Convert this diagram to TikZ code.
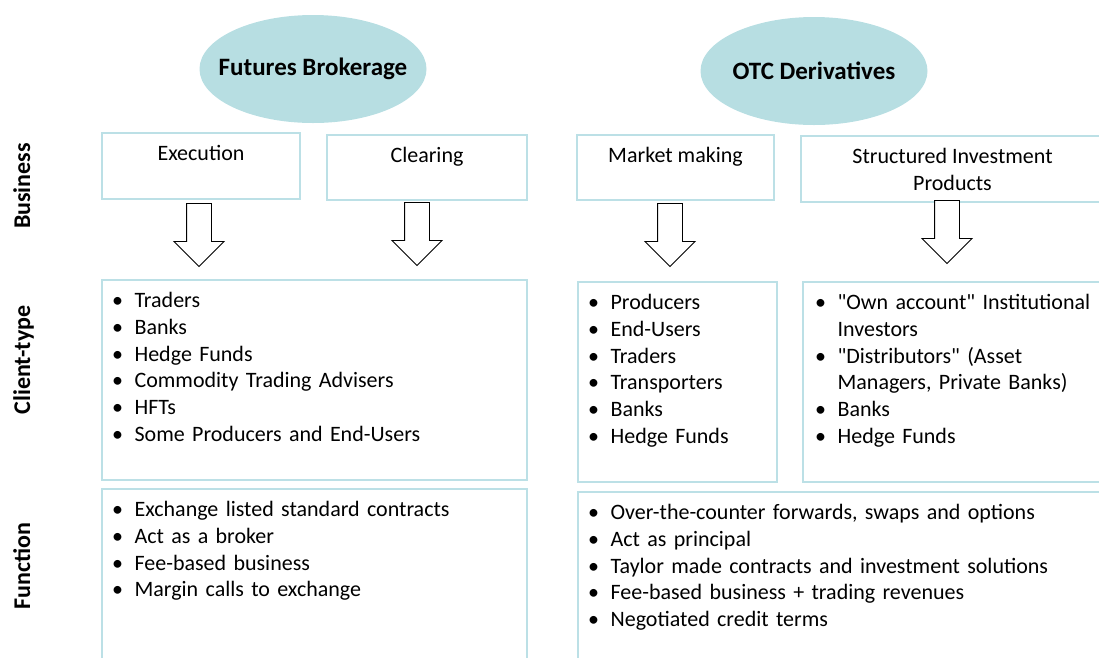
\documentclass[tikz,border=0pt]{standalone}
\usepackage{fontspec}
\setmainfont{Carlito}
\usetikzlibrary{shapes.geometric,shapes.arrows,positioning}
\definecolor{tealfill}{RGB}{183,222,226}
\definecolor{tealline}{RGB}{188,224,230}
% one bullet line, wrapped lines hang under the text
\newcommand{\itm}[1]{\par\noindent\hangindent=22.5pt\hangafter=1\makebox[22.5pt][l]{\textbullet}\strut#1}
\newcommand{\nl}{\hfil\break\strut}

\begin{document}
\begin{tikzpicture}[x=1pt, y=-1pt,
  head/.style={ellipse, fill=tealfill, minimum width=227pt, minimum height=108pt, inner sep=0pt},
  htxt/.style={inner sep=0pt, font=\fontsize{25}{30}\selectfont\bfseries},
  box/.style={draw=tealline, line width=1.2pt, rectangle, inner sep=0pt},
  btxt/.style={anchor=north, align=center, inner sep=0pt, font=\fontsize{22}{26.8}\selectfont},
  lst/.style={anchor=north west, inner sep=0pt, font=\fontsize{22}{26.8}\selectfont},
  blk/.style={single arrow, draw, line width=0.9pt, fill=white, minimum height=63pt, single arrow head extend=12.5pt, single arrow head indent=0pt, shape border rotate=270, inner sep=12pt, anchor=tail},
  side/.style={rotate=90, anchor=base, inner sep=0pt, font=\fontsize{24}{28}\selectfont\bfseries}]
\clip (0,0) rectangle (1099,657);

% row labels
\node[side] (rbus) at (30,186) {Business};
\node[side] (rcli) at (30,360) {Client-type};
\node[side] (rfun) at (30,566) {Function};

% the two business lines
\node[head] (fut) at (313,69) {};
\node[head] (otc) at (814,71) {};
\node[htxt] at (fut) {Futures Brokerage};
\node[htxt] at (otc) {OTC Derivatives};

% business boxes
\node[box, minimum width=198pt, minimum height=66pt] (exe) at (201,166) {};
\node[box, minimum width=200pt, minimum height=65pt] (clr) at (427,167.5) {};
\node[box, minimum width=197pt, minimum height=65pt] (mkt) at (675.5,167.5) {};
\node[box, minimum width=303pt, minimum height=66pt] (sip) at (952.5,169) {};
\node[btxt] at ([yshift=-9pt]exe.north) {\strut Execution};
\node[btxt] at ([yshift=-9pt]clr.north) {\strut Clearing};
\node[btxt] at ([yshift=-9pt]mkt.north) {\strut Market making};
\node[btxt] at ([yshift=-9pt]sip.north) {\strut Structured Investment\\\strut Products};

% block arrows down to the clients
\node[blk] (a1) at (199,203) {};
\node[blk] (a2) at (417,202) {};
\node[blk] (a3) at (670,203) {};
\node[blk] (a4) at (947,200) {};

% client boxes
\node[box, minimum width=425pt, minimum height=200pt] (cl1) at (314.5,380) {};
\node[box, minimum width=199pt, minimum height=200pt] (cl2) at (677.5,382) {};
\node[box, minimum width=301pt, minimum height=200pt] (cl3) at (953.5,382) {};
\node[lst, text width=410pt] at ([xshift=10.5pt,yshift=-1pt]cl1.north west) {\raggedright\itm{Traders}\itm{Banks}\itm{Hedge Funds}\itm{Commodity Trading Advisers}\itm{HFTs}\itm{Some Producers and End-Users}};
\node[lst, text width=185pt] at ([xshift=10.5pt,yshift=-1pt]cl2.north west) {\raggedright\itm{Producers}\itm{End-Users}\itm{Traders}\itm{Transporters}\itm{Banks}\itm{Hedge Funds}};
\node[lst, text width=290pt] at ([xshift=12.5pt,yshift=-1pt]cl3.north west) {\raggedright\itm{\textquotedbl Own account\textquotedbl{} Institutional\nl Investors}\itm{\textquotedbl Distributors\textquotedbl{} (Asset\nl Managers, Private Banks)}\itm{Banks}\itm{Hedge Funds}};

% function boxes
\node[box, minimum width=425pt, minimum height=200pt] (fn1) at (314.5,589) {};
\node[box, minimum width=526pt, minimum height=200pt] (fn2) at (841,592) {};
\node[lst, text width=410pt] at ([xshift=10.5pt,yshift=-1pt]fn1.north west) {\raggedright\itm{Exchange listed standard contracts}\itm{Act as a broker}\itm{Fee-based business}\itm{Margin calls to exchange}};
\node[lst, text width=510pt] at ([xshift=10.5pt,yshift=-1pt]fn2.north west) {\raggedright\itm{Over-the-counter forwards, swaps and options}\itm{Act as principal}\itm{Taylor made contracts and investment solutions}\itm{Fee-based business + trading revenues}\itm{Negotiated credit terms}};
\end{tikzpicture}
\end{document}
